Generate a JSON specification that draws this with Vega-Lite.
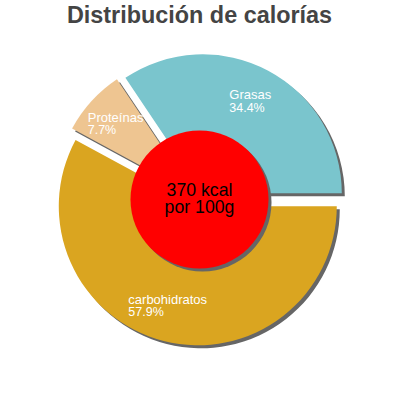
{
  "$schema": "https://vega.github.io/schema/vega-lite/v6.json",
  "width": 399,
  "height": 343,
  "autosize": {"type": "pad"},
  "padding": {"top": 3, "left": 0, "right": 0, "bottom": 0},
  "config": {"view": {"stroke": null}, "text": {"font": "Liberation Sans"}},
  "title": {"text": "Distribución de calorías", "font": "Liberation Sans", "fontSize": 23.4, "fontWeight": "bold", "color": "#444444", "anchor": "middle", "frame": "group", "baseline": "top", "offset": 0},
  "layer": [
    {
      "data": {"values": [
        {"nutriente": "carbohidratos", "pct": 57.9},
        {"nutriente": "Proteínas", "pct": 7.7},
        {"nutriente": "Grasas", "pct": 34.4}
      ]},
      "transform": [
        {"stack": "pct", "groupby": [], "sort": [{"field": "nutriente", "order": "descending"}], "as": ["a0", "a1"]},
        {"calculate": "(datum.a0 + datum.a1) / 2", "as": "mid"},
        {"calculate": "format(datum.pct, '.1f') + '%'", "as": "pcttxt"}
      ],
      "layer": [
        {
          "transform": [{"filter": "datum.nutriente === 'carbohidratos'"}],
          "layer": [
            {"mark": {"type": "arc", "radius": 139, "color": "#666666", "xOffset": 1.28, "yOffset": 9.79},
             "encoding": {"theta": {"field": "a0", "type": "quantitative", "stack": null, "scale": {"domain": [0, 100], "range": [1.5707963, 7.8539816]}}, "theta2": {"field": "a1"}}},
            {"mark": {"type": "arc", "radius": 139, "color": "#daa520", "xOffset": -1.72, "yOffset": 6.79},
             "encoding": {"theta": {"field": "a0", "type": "quantitative", "stack": null}, "theta2": {"field": "a1"}}},
            {"mark": {"type": "text", "radius": 100, "color": "white", "fontSize": 13, "letterSpacing": 0.5, "align": "left", "baseline": "alphabetic", "dx": -46.6, "dy": 7.4},
             "encoding": {"theta": {"field": "mid", "type": "quantitative", "stack": null}, "text": {"field": "nutriente"}}},
            {"mark": {"type": "text", "radius": 100, "color": "white", "fontSize": 12.5, "align": "left", "baseline": "alphabetic", "dx": -46.6, "dy": 19.8},
             "encoding": {"theta": {"field": "mid", "type": "quantitative", "stack": null}, "text": {"field": "pcttxt"}}}
          ]
        },
        {
          "transform": [{"filter": "datum.nutriente === 'Proteínas'"}],
          "layer": [
            {"mark": {"type": "arc", "radius": 139, "color": "#666666", "xOffset": -2.18, "yOffset": -1.71},
             "encoding": {"theta": {"field": "a0", "type": "quantitative", "stack": null}, "theta2": {"field": "a1"}}},
            {"mark": {"type": "arc", "radius": 139, "color": "#eec591", "xOffset": -5.18, "yOffset": -4.71},
             "encoding": {"theta": {"field": "a0", "type": "quantitative", "stack": null}, "theta2": {"field": "a1"}}},
            {"mark": {"type": "text", "radius": 100, "color": "white", "fontSize": 13, "letterSpacing": 0.5, "align": "left", "baseline": "alphabetic", "dx": -37.8, "dy": -9.7},
             "encoding": {"theta": {"field": "mid", "type": "quantitative", "stack": null}, "text": {"field": "nutriente"}}},
            {"mark": {"type": "text", "radius": 100, "color": "white", "fontSize": 12.5, "align": "left", "baseline": "alphabetic", "dx": -37.8, "dy": 2.3},
             "encoding": {"theta": {"field": "mid", "type": "quantitative", "stack": null}, "text": {"field": "pcttxt"}}}
          ]
        },
        {
          "transform": [{"filter": "datum.nutriente === 'Grasas'"}],
          "layer": [
            {"mark": {"type": "arc", "radius": 139, "color": "#666666", "xOffset": 6.29, "yOffset": -3.18},
             "encoding": {"theta": {"field": "a0", "type": "quantitative", "stack": null}, "theta2": {"field": "a1"}}},
            {"mark": {"type": "arc", "radius": 139, "color": "#7ac5cd", "xOffset": 3.29, "yOffset": -6.18},
             "encoding": {"theta": {"field": "a0", "type": "quantitative", "stack": null}, "theta2": {"field": "a1"}}},
            {"mark": {"type": "text", "radius": 100, "color": "white", "fontSize": 13, "letterSpacing": 0.5, "align": "left", "baseline": "alphabetic", "dx": -17.3, "dy": -11.8},
             "encoding": {"theta": {"field": "mid", "type": "quantitative", "stack": null}, "text": {"field": "nutriente"}}},
            {"mark": {"type": "text", "radius": 100, "color": "white", "fontSize": 12.5, "align": "left", "baseline": "alphabetic", "dx": -17.3, "dy": 1.2},
             "encoding": {"theta": {"field": "mid", "type": "quantitative", "stack": null}, "text": {"field": "pcttxt"}}}
          ]
        }
      ]
    },
    {
      "data": {"values": [{"kcal": 370, "base": "100g"}]},
      "transform": [{"calculate": "[format(datum.kcal, 'd') + ' kcal', 'por ' + datum.base]", "as": "t"}],
      "layer": [
        {"mark": {"type": "arc", "radius": 69, "theta": 0, "theta2": 6.2832, "color": "#666666", "xOffset": 3, "yOffset": 3}, "encoding": {}},
        {"mark": {"type": "arc", "radius": 69, "theta": 0, "theta2": 6.2832, "color": "#ff0000"}, "encoding": {}},
        {"mark": {"type": "text", "fontSize": 17.7, "color": "black", "align": "center", "baseline": "alphabetic", "dy": -4, "lineHeight": 17}, "encoding": {"text": {"field": "t"}}}
      ]
    }
  ]
}
